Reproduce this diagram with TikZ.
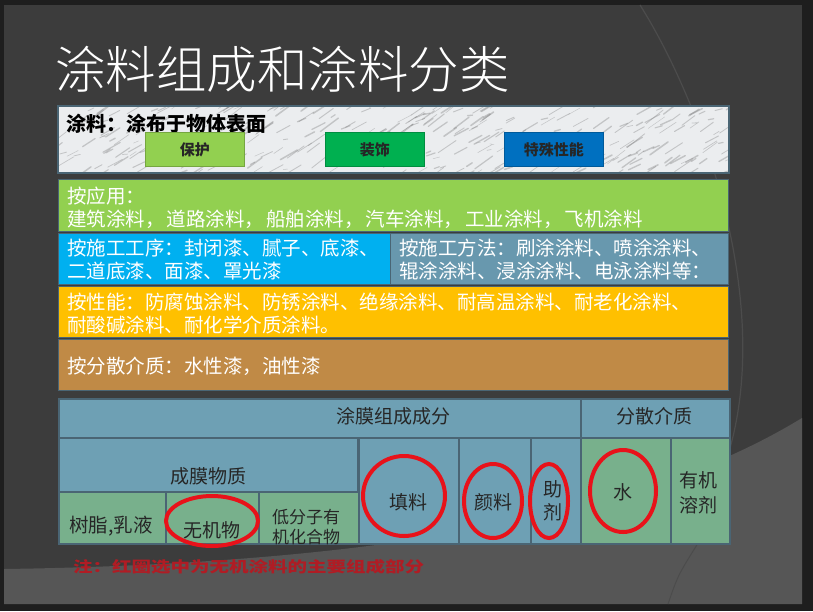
\documentclass[tikz,border=0pt]{standalone}
\usepackage{fontspec}
\setmainfont{Noto Sans CJK SC}
\newfontfamily\titlefont{Noto Sans CJK SC Light}

\definecolor{framecol}{HTML}{1E1E1E}
\definecolor{slidedark}{HTML}{3C3C3C}
\definecolor{slidelight}{HTML}{565656}
\definecolor{edgecol}{HTML}{4A6574}
\definecolor{marblecol}{HTML}{EBEDEF}
\definecolor{appgreen}{HTML}{92D050}
\definecolor{seqblue}{HTML}{00B0F0}
\definecolor{methodblue}{HTML}{6898AE}
\definecolor{perfyellow}{HTML}{FFC000}
\definecolor{mediumbrown}{HTML}{C08A46}
\definecolor{cellblue}{HTML}{6EA0B4}
\definecolor{cellgreen}{HTML}{78B08C}
\definecolor{tagdeco}{HTML}{00B050}
\definecolor{tagspecial}{HTML}{0070C0}
\definecolor{ringred}{HTML}{E8121A}
\definecolor{notered}{HTML}{B01C24}

\begin{document}
\begin{tikzpicture}[x=1pt, y=-1pt,
    rowbox/.style={draw=edgecol, line width=1.2pt, inner sep=0pt, anchor=north west},
    rowtext/.style={text=white, font=\fontsize{19.5}{23}\selectfont, align=left, anchor=west, inner sep=0pt},
    cell/.style={draw=edgecol, line width=1.5pt, inner sep=0pt, anchor=north west},
    celltext/.style={text=black!85, font=\fontsize{19}{24}\selectfont, align=center, inner sep=0pt},
    tag/.style={draw=#1!80!black, fill=#1, line width=0.8pt, minimum width=99pt, minimum height=34pt,
        inner sep=0pt, font=\bfseries\fontsize{15}{15}\selectfont, text=black!85},
    ring/.style={draw=ringred, line width=4pt}]

    % the frame and the slide
    \fill[framecol] (0,0) rectangle (813,611);
    \fill[slidedark] (4,5) rectangle (802,604);
    % the lighter swoosh at the bottom
    \fill[slidelight] (4,569) .. controls (500,562) and (700,480) .. (802,418) -- (802,604) -- (4,604) -- cycle;
    % the thin curves on the right
    \draw[black!70, line width=1.2pt] (640,5) .. controls (700,100) and (775,300) .. (728,455);
    \draw[black!70, line width=1pt] (668,604) .. controls (678,575) .. (700,540);

    % the title
    \node[anchor=west, text=white, font=\titlefont\fontsize{50.5}{50.5}\selectfont, inner sep=0pt]
        (title) at (55,69) {涂料组成和涂料分类};

    % the marble box on top
    \node[rowbox, fill=marblecol, minimum width=670pt, minimum height=66pt] (marble) at (58,106) {};
    \begin{scope}
        \clip (marble.north west) rectangle (marble.south east);
        \pgfmathsetseed{42}
        \foreach \k in {1,...,360} {
            \pgfmathsetmacro\sx{50+690*rnd}
            \pgfmathsetmacro\sy{100+80*rnd}
            \pgfmathsetmacro\sl{4+14*rnd}
            \pgfmathsetmacro\sw{0.4+1.2*rnd}
            \draw[black!60, line width=\sw pt, opacity=0.3, line cap=round]
                (\sx,\sy) -- ++(\sl,-0.8*\sl+4*rnd);
        }
    \end{scope}
    \draw[edgecol, line width=1.5pt] (marble.north west) rectangle (marble.south east);
    \node[anchor=west, inner sep=0pt, font=\bfseries\fontsize{20}{20}\selectfont] (coat) at (66,124) {涂料：涂布于物体表面};
    % the three tags
    \node[tag=appgreen, anchor=north west] (protect) at (145,132) {保护};
    \node[tag=tagdeco, anchor=north west] (deco) at (325,132) {装饰};
    \node[tag=tagspecial, anchor=north west] (special) at (504,132) {特殊性能};

    % the rows of the classes
    \node[rowbox, fill=appgreen, minimum width=670pt, minimum height=52pt] (app) at (58,179) {};
    \node[rowtext] (apptext) at (67,208) {按应用：\\建筑涂料，\hspace{2pt}道路涂料，\hspace{2pt}船舶涂料，\hspace{2pt}汽车涂料，\hspace{2pt}工业涂料，\hspace{2pt}飞机涂料};
    \node[rowbox, fill=seqblue, minimum width=332pt, minimum height=51pt] (seq) at (58,233) {};
    \node[rowtext] (seqtext) at (67,260) {按施工工序：封闭漆、腻子、底漆、\\二道底漆、面漆、罩光漆};
    \node[rowbox, fill=methodblue, minimum width=338pt, minimum height=51pt] (method) at (390,233) {};
    \node[rowtext] (methodtext) at (399,260) {按施工方法：刷涂涂料、喷涂涂料、\\辊涂涂料、浸涂涂料、电泳涂料等：};
    \node[rowbox, fill=perfyellow, minimum width=670pt, minimum height=51pt] (perf) at (58,286) {};
    \node[rowtext] (perftext) at (67,313) {按性能：防腐蚀涂料、防锈涂料、绝缘涂料、耐高温涂料、耐老化涂料、\\耐酸碱涂料、耐化学介质涂料。};
    \node[rowbox, fill=mediumbrown, minimum width=670pt, minimum height=51pt] (medium) at (58,339) {};
    \node[rowtext] (mediumtext) at (67,366) {按分散介质：水性漆，油性漆};

    % the table, first row
    \node[cell, fill=cellblue, minimum width=522pt, minimum height=39pt] (filmhead) at (58,398) {};
    \node[cell, fill=cellblue, minimum width=149pt, minimum height=39pt] (mediumhead) at (580,398) {};
    \node[celltext] (filmheadtext) at (393,416) {涂膜组成成分};
    \node[celltext] (mediumheadtext) at (654,416) {分散介质};
    % the table, second row
    \node[cell, fill=cellblue, minimum width=299pt, minimum height=54pt] (film) at (58,437) {};
    \node[celltext] (filmtext) at (208,476) {成膜物质};
    \node[cell, fill=cellgreen, minimum width=107pt, minimum height=52pt] (resin) at (58,491) {};
    \node[celltext, font=\fontsize{19.5}{24}\selectfont] (resintext) at (111,526) {树脂,乳液};
    \node[cell, fill=cellgreen, minimum width=93pt, minimum height=52pt] (inorg) at (165,491) {};
    \node[celltext] (inorgtext) at (212,530) {无机物};
    \node[cell, fill=cellgreen, minimum width=100pt, minimum height=52pt] (lowmol) at (258,491) {};
    \node[celltext, font=\fontsize{17}{20}\selectfont] (lowmoltext) at (306,527) {低分子有\\机化合物};
    \node[cell, fill=cellblue, minimum width=100pt, minimum height=106pt] (filler) at (358,437) {};
    \node[celltext] (fillertext) at (408,502) {填料};
    \node[cell, fill=cellblue, minimum width=72pt, minimum height=106pt] (pigment) at (458,437) {};
    \node[celltext] (pigmenttext) at (493,502) {颜料};
    \node[cell, fill=cellblue, minimum width=50pt, minimum height=106pt] (additive) at (530,437) {};
    \node[celltext, font=\fontsize{19}{23}\selectfont] (additivetext) at (553,501) {助\\剂};
    \node[cell, fill=cellgreen, minimum width=90pt, minimum height=106pt] (water) at (580,437) {};
    \node[celltext] (watertext) at (623,492) {水};
    \node[cell, fill=cellgreen, minimum width=59pt, minimum height=106pt] (organic) at (670,437) {};
    \node[celltext, font=\fontsize{19}{25}\selectfont] (organictext) at (698,493) {有机\\溶剂};

    % the red rings
    \draw[ring] (212,521) ellipse [x radius=46, y radius=25];
    \draw[ring] (404,496) ellipse [x radius=41, y radius=40];
    \draw[ring] (493,501) ellipse [x radius=29, y radius=37];
    \draw[ring] (549,501) ellipse [x radius=19, y radius=37];
    \draw[ring] (623,491) ellipse [x radius=33, y radius=41];

    % the note below
    \node[anchor=west, inner sep=0pt, text=notered, font=\bfseries\fontsize{15}{15}\selectfont]
        (note) at (73,567) {\scalebox{1.3}[1]{注：红圈选中为无机涂料的主要组成部分}};
\end{tikzpicture}
\end{document}
